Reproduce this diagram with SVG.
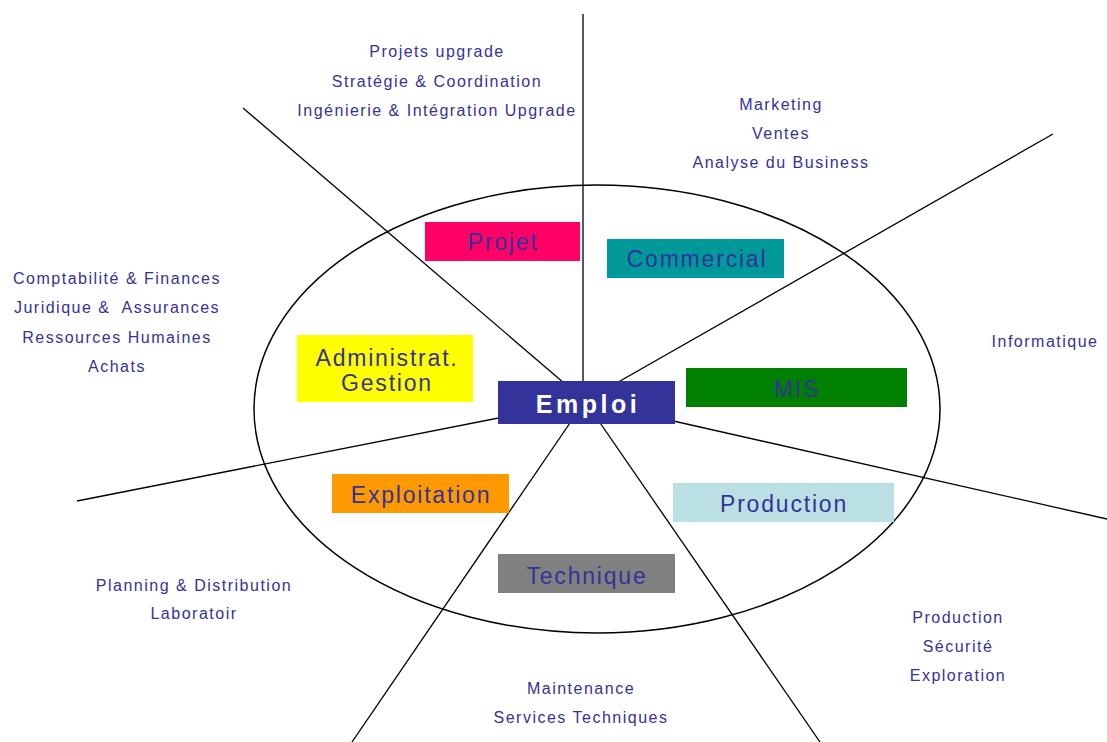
<svg xmlns="http://www.w3.org/2000/svg" width="1107" height="742" viewBox="0 0 1107 742">
  <style>
    .spoke { stroke: #000; stroke-width: 1.3; fill: none; }
    .ring { stroke: #000; stroke-width: 1.5; fill: none; }
    .lbl { font-family: "Liberation Sans", Arial, sans-serif; font-size: 23px; letter-spacing: 1.8px; fill: #333399; text-anchor: middle; }
    .core { font-family: "Liberation Sans", Arial, sans-serif; font-size: 25px; font-weight: bold; letter-spacing: 3.5px; fill: #fff; text-anchor: middle; }
    .note { font-family: "Liberation Sans", Arial, sans-serif; font-size: 16px; letter-spacing: 1.5px; fill: #333399; text-anchor: middle; white-space: pre; }
  </style>
  <rect width="1107" height="742" fill="#fff"/>

  <!-- spokes radiating from the centre -->
  <g id="connectors">
    <line class="spoke" x1="583" y1="401" x2="583" y2="14"/>
    <line class="spoke" x1="585" y1="401" x2="243" y2="108"/>
    <line class="spoke" x1="585" y1="401" x2="1053" y2="134"/>
    <line class="spoke" x1="585" y1="401" x2="77" y2="501"/>
    <line class="spoke" x1="585" y1="401" x2="1107" y2="519"/>
    <line class="spoke" x1="585" y1="401" x2="352" y2="742"/>
    <line class="spoke" x1="585" y1="401" x2="820" y2="742"/>
    <ellipse class="ring" cx="597" cy="409" rx="343" ry="224"/>
  </g>

  <g id="projet">
    <rect x="425" y="222" width="155" height="39" fill="#FF0066"/>
    <text class="lbl" x="503" y="250">Projet</text>
  </g>
  <g id="commercial">
    <rect x="607" y="239" width="177" height="39" fill="#009999"/>
    <text class="lbl" x="697" y="267">Commercial</text>
  </g>
  <g id="administration">
    <rect x="297" y="335" width="176" height="67" fill="#FFFF00"/>
    <text class="lbl" x="387" y="366">Administrat.</text>
    <text class="lbl" x="387" y="391">Gestion</text>
  </g>
  <g id="emploi">
    <rect x="498" y="381" width="177" height="43" fill="#333399"/>
    <text class="core" x="588" y="413">Emploi</text>
  </g>
  <g id="mis">
    <rect x="686" y="368" width="221" height="39" fill="#008000"/>
    <text class="lbl" x="797" y="397">MIS</text>
  </g>
  <g id="exploitation">
    <rect x="332" y="474" width="177" height="39" fill="#FF9900"/>
    <text class="lbl" x="421" y="503">Exploitation</text>
  </g>
  <g id="production">
    <rect x="673" y="483" width="221" height="39" fill="#BBE0E3"/>
    <text class="lbl" x="784" y="512">Production</text>
  </g>
  <g id="technique">
    <rect x="498" y="554" width="177" height="39" fill="#808080"/>
    <text class="lbl" x="587" y="584">Technique</text>
  </g>

  <!-- sector descriptions -->
  <g id="notes-projet">
    <text class="note" x="437" y="57">Projets upgrade</text>
    <text class="note" x="437" y="87">Stratégie &amp; Coordination</text>
    <text class="note" x="437" y="116">Ingénierie &amp; Intégration Upgrade</text>
  </g>
  <g id="notes-commercial">
    <text class="note" x="781" y="110">Marketing</text>
    <text class="note" x="781" y="139">Ventes</text>
    <text class="note" x="781" y="168">Analyse du Business</text>
  </g>
  <g id="notes-administration">
    <text class="note" x="117" y="284">Comptabilité &amp; Finances</text>
    <text class="note" x="117" y="313">Juridique &amp;  Assurances</text>
    <text class="note" x="117" y="343">Ressources Humaines</text>
    <text class="note" x="117" y="372">Achats</text>
  </g>
  <g id="notes-mis">
    <text class="note" x="1045" y="347">Informatique</text>
  </g>
  <g id="notes-exploitation">
    <text class="note" x="194" y="591">Planning &amp; Distribution</text>
    <text class="note" x="194" y="619">Laboratoir</text>
  </g>
  <g id="notes-technique">
    <text class="note" x="581" y="694">Maintenance</text>
    <text class="note" x="581" y="723">Services Techniques</text>
  </g>
  <g id="notes-production">
    <text class="note" x="958" y="623">Production</text>
    <text class="note" x="958" y="652">Sécurité</text>
    <text class="note" x="958" y="681">Exploration</text>
  </g>
</svg>
